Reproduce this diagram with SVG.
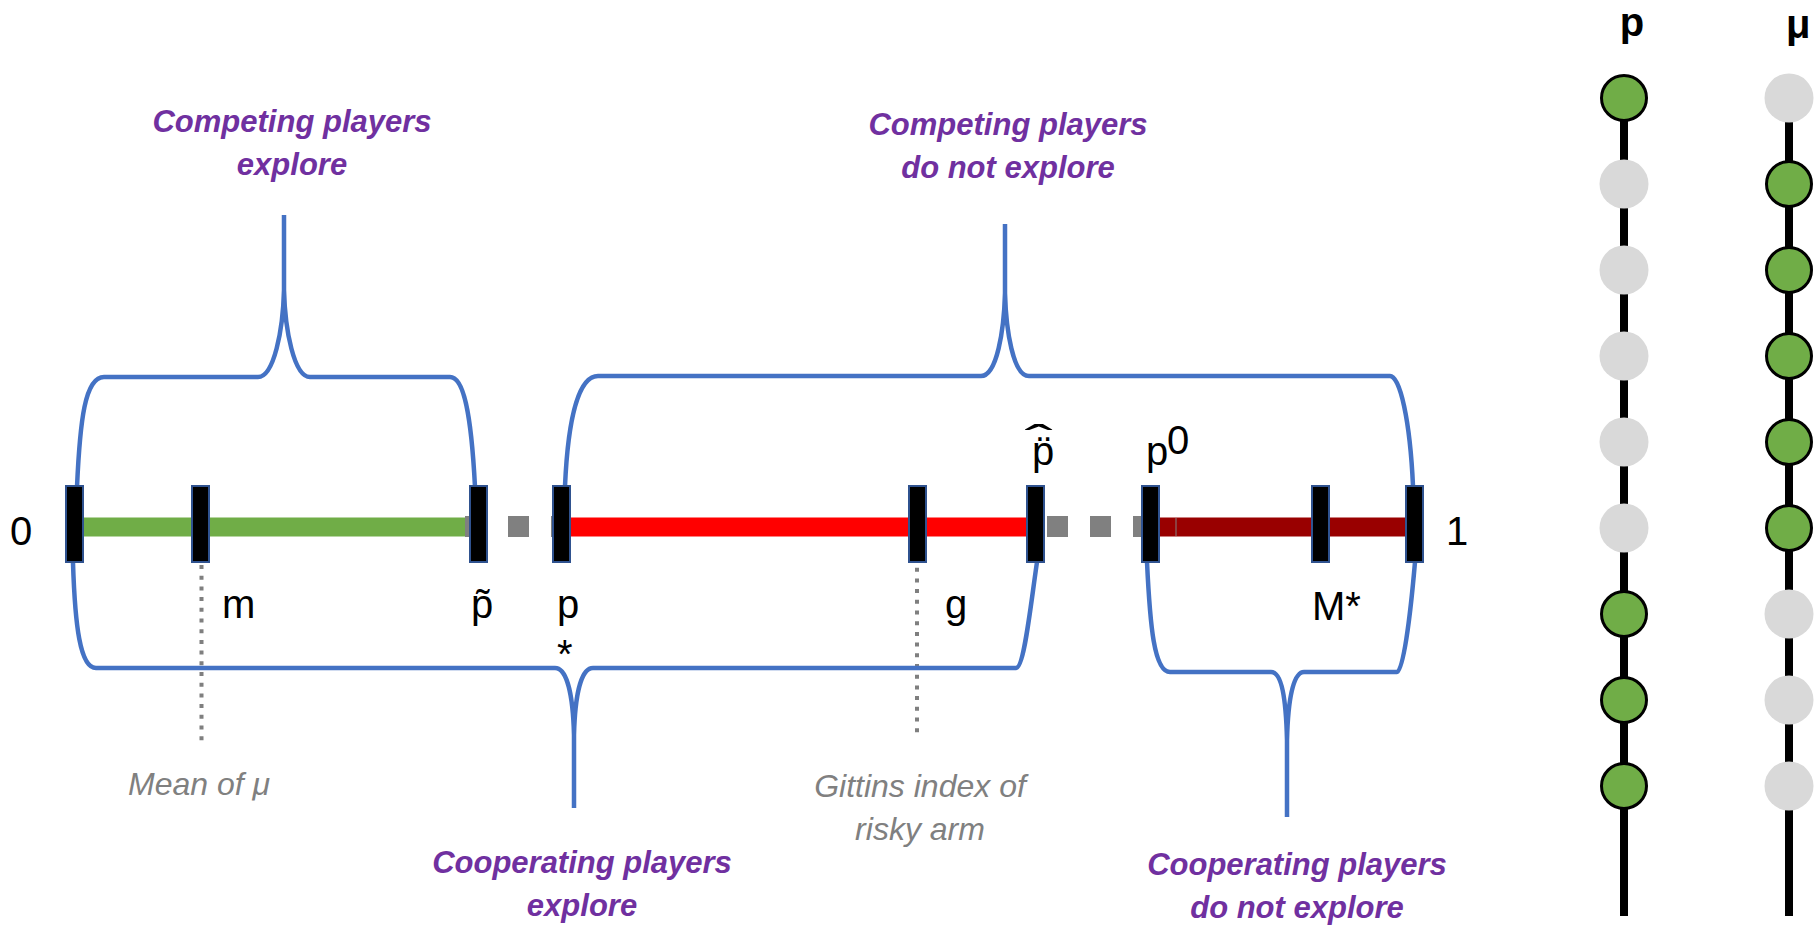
<svg xmlns="http://www.w3.org/2000/svg" width="1815" height="929" viewBox="0 0 1815 929">
  <style>
    .mk { fill: #000; stroke: #2F528F; stroke-width: 2; }
    .br { fill: none; stroke: #4472C4; stroke-width: 4.5; }
    .lbl { font-family: "Liberation Sans", Arial, sans-serif; font-size: 40px; fill: #000; }
    .pur { font-family: "Liberation Sans", Arial, sans-serif; font-weight: bold; font-style: italic; font-size: 31px; fill: #7030A0; text-anchor: middle; }
    .gry { font-family: "Liberation Sans", Arial, sans-serif; font-style: italic; font-size: 32px; fill: #808080; text-anchor: middle; }
    .dot { fill: none; stroke: #7F7F7F; stroke-width: 4; stroke-dasharray: 4 6.7; }
    .gc { fill: #70AD47; stroke: #000; stroke-width: 3; }
    .lc { fill: #D9D9D9; }
    .col { stroke: #000; stroke-width: 8; }
    .head { font-family: "Liberation Sans", Arial, sans-serif; font-weight: bold; font-size: 40px; fill: #000; }
  </style>

  <rect width="1815" height="929" fill="#fff"/>

  <!-- axis segments -->
  <g id="axis">
    <line x1="83" y1="527" x2="472" y2="527" stroke="#70AD47" stroke-width="19"/>
    <line x1="465" y1="526.5" x2="570" y2="526.5" stroke="#808080" stroke-width="21" stroke-dasharray="21 22"/>
    <line x1="560" y1="527" x2="1030" y2="527" stroke="#FF0000" stroke-width="19"/>
    <line x1="1047" y1="526.5" x2="1150" y2="526.5" stroke="#808080" stroke-width="21" stroke-dasharray="21 22"/>
    <line x1="1158" y1="527" x2="1408" y2="527" stroke="#990000" stroke-width="19"/>
    <line x1="1176" y1="518" x2="1176" y2="536" stroke="#808080" stroke-width="1"/>
  </g>

  <!-- guide lines to the notes -->
  <g id="guides">
    <line class="dot" x1="201.5" y1="565" x2="201.5" y2="747"/>
    <line class="dot" x1="917" y1="557" x2="917" y2="738"/>
  </g>

  <!-- braces -->
  <g id="connectors">
    <path class="br" d="M77,487 C80,420 85,377 104,377 L258,377 C274,377 283,330 284,290 L284,215 M284,290 C285,330 294,377 310,377 L450,377 C463,377 471,410 475,487"/>
    <path class="br" d="M565,486 C568,420 578,376 598,376 L981,376 C997,376 1004,330 1005,293 L1005,224 M1005,293 C1006,330 1013,376 1029,376 L1390,376 C1400,376 1410,420 1413,486"/>
    <path class="br" d="M73,563 C75,625 80,668 96,668 L555,668 C567,668 573,695 574,735 L574,808 M574,735 C575,695 581,668 593,668 L1016,668 C1024,668 1030,610 1037,562"/>
    <path class="br" d="M1147,562 C1150,625 1154,672 1170,672 L1271,672 C1282,672 1286,700 1287,740 L1287,817 M1287,740 C1288,700 1293,672 1304,672 L1397,672 C1403,672 1410,620 1415,562"/>
  </g>

  <!-- tick markers on the axis -->
  <g id="tick-0"><rect class="mk" x="66" y="486" width="17" height="76"/></g>
  <g id="tick-m"><rect class="mk" x="192" y="486" width="17" height="76"/></g>
  <g id="tick-ptilde"><rect class="mk" x="470" y="486" width="17" height="76"/></g>
  <g id="tick-pstar"><rect class="mk" x="553" y="486" width="17" height="76"/></g>
  <g id="tick-g"><rect class="mk" x="909" y="486" width="17" height="76"/></g>
  <g id="tick-phat"><rect class="mk" x="1027" y="486" width="17" height="76"/></g>
  <g id="tick-p0"><rect class="mk" x="1142" y="486" width="17" height="76"/></g>
  <g id="tick-Mstar"><rect class="mk" x="1312" y="486" width="17" height="76"/></g>
  <g id="tick-1"><rect class="mk" x="1406" y="486" width="17" height="76"/></g>

  <!-- axis labels -->
  <g id="axis-labels">
    <text class="lbl" x="10" y="545">0</text>
    <text class="lbl" x="1446" y="545">1</text>
    <text class="lbl" x="222" y="618">m</text>
    <text class="lbl" x="471" y="618">p&#x303;</text>
    <text class="lbl" x="557" y="618">p</text>
    <text class="lbl" x="557" y="668">*</text>
    <text class="lbl" x="945" y="618">g</text>
    <text class="lbl" x="1032" y="465">p&#x308;</text>
    <text class="lbl" transform="translate(1039,454) scale(2.1,1)" x="0" y="0" text-anchor="middle" font-size="36">&#x2C6;</text>
    <text class="lbl" x="1146" y="465">p</text>
    <text class="lbl" x="1167" y="454" font-size="22">0</text>
    <text class="lbl" x="1312" y="620">M*</text>
  </g>

  <!-- region notes -->
  <g id="note-compete-explore">
    <text class="pur" x="292" y="132">Competing players</text>
    <text class="pur" x="292" y="175">explore</text>
  </g>
  <g id="note-compete-noexplore">
    <text class="pur" x="1008" y="135">Competing players</text>
    <text class="pur" x="1008" y="178">do not explore</text>
  </g>
  <g id="note-coop-explore">
    <text class="pur" x="582" y="873">Cooperating players</text>
    <text class="pur" x="582" y="916">explore</text>
  </g>
  <g id="note-coop-noexplore">
    <text class="pur" x="1297" y="875">Cooperating players</text>
    <text class="pur" x="1297" y="918">do not explore</text>
  </g>
  <g id="note-mean">
    <text class="gry" x="199" y="795">Mean of μ</text>
  </g>
  <g id="note-gittins">
    <text class="gry" x="920" y="797">Gittins index of</text>
    <text class="gry" x="920" y="840">risky arm</text>
  </g>

  <!-- column p -->
  <g id="column-p">
    <text class="head" x="1632" y="36" text-anchor="middle">p</text>
    <line class="col" x1="1624" y1="98" x2="1624" y2="916"/>
    <circle class="gc" cx="1624" cy="98" r="22.5"/>
    <circle class="lc" cx="1624" cy="184" r="24.5"/>
    <circle class="lc" cx="1624" cy="270" r="24.5"/>
    <circle class="lc" cx="1624" cy="356" r="24.5"/>
    <circle class="lc" cx="1624" cy="442" r="24.5"/>
    <circle class="lc" cx="1624" cy="528" r="24.5"/>
    <circle class="gc" cx="1624" cy="614" r="22.5"/>
    <circle class="gc" cx="1624" cy="700" r="22.5"/>
    <circle class="gc" cx="1624" cy="786" r="22.5"/>
  </g>

  <!-- column mu -->
  <g id="column-mu">
    <text class="head" x="1786" y="38">μ</text>
    <line class="col" x1="1789" y1="98" x2="1789" y2="916"/>
    <circle class="lc" cx="1789" cy="98" r="24.5"/>
    <circle class="gc" cx="1789" cy="184" r="22.5"/>
    <circle class="gc" cx="1789" cy="270" r="22.5"/>
    <circle class="gc" cx="1789" cy="356" r="22.5"/>
    <circle class="gc" cx="1789" cy="442" r="22.5"/>
    <circle class="gc" cx="1789" cy="528" r="22.5"/>
    <circle class="lc" cx="1789" cy="614" r="24.5"/>
    <circle class="lc" cx="1789" cy="700" r="24.5"/>
    <circle class="lc" cx="1789" cy="786" r="24.5"/>
  </g>
</svg>
